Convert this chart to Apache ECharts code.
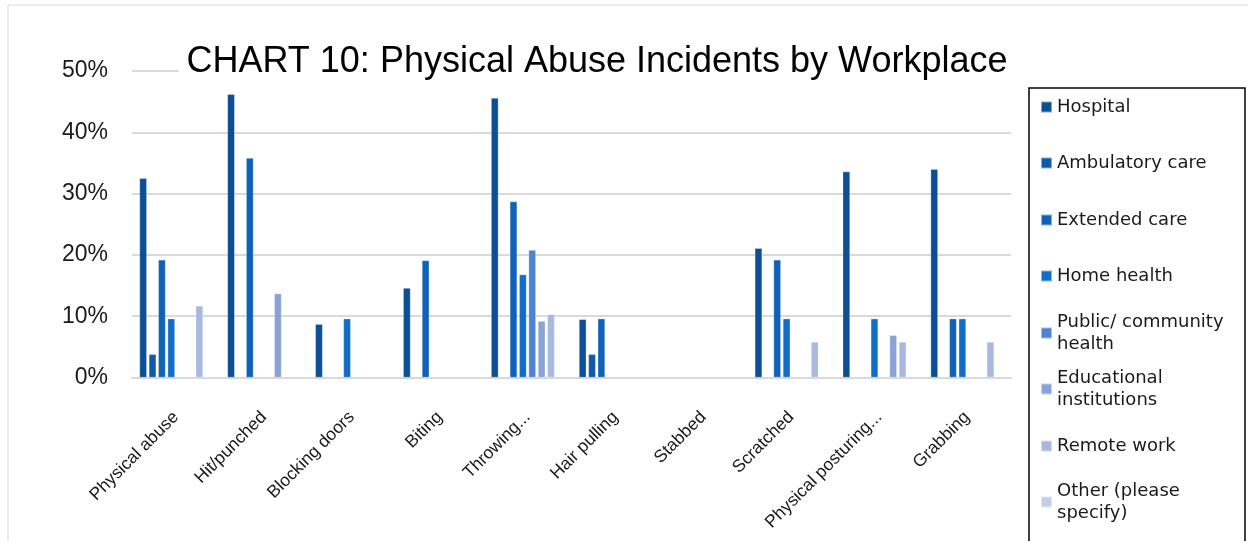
<!DOCTYPE html>
<html>
<head>
<meta charset="utf-8">
<script src="https://cdn.jsdelivr.net/npm/echarts@6/dist/echarts.min.js"></script>
<style>html,body{margin:0;padding:0;background:#fff;}#c{width:1248px;height:541px;}</style>
</head>
<body>
<div id="c"></div>
<script>
const categories = ['Physical abuse','Hit/punched','Blocking doors','Biting','Throwing...','Hair pulling','Stabbed','Scratched','Physical posturing...','Grabbing'];
const seriesNames = ['Hospital','Ambulatory care','Extended care','Home health','Public/ community health','Educational institutions','Remote work','Other (please specify)'];
const legendLabels = ['Hospital','Ambulatory care','Extended care','Home health','Public/ community\nhealth','Educational\ninstitutions','Remote work','Other (please\nspecify)'];
const hospital    = [32.5, 46.2, 8.7, 14.6, 45.6, 9.5, null, 21.1, 33.6, 34.0];
const ambulatory  = [3.8, null, null, null, null, 3.8, null, null, null, null];
const extended    = [19.2, 35.8, null, 19.1, 28.7, 9.6, null, 19.2, null, 9.6];
const homeHealth  = [9.6, null, 9.6, null, 16.8, null, null, 9.6, 9.6, 9.6];
const publicHealth= [null, null, null, null, 20.8, null, null, null, null, null];
const educational = [null, 13.7, null, null, 9.2, null, null, null, 6.9, null];
const remoteWork  = [11.7, null, null, null, 10.3, null, null, 5.8, 5.8, 5.8];
const other       = [null, null, null, null, null, null, null, null, null, null];
const yTicks = [0, 10, 20, 30, 40, 50];

const allData = [hospital, ambulatory, extended, homeHealth, publicHealth, educational, remoteWork, other];
const colors = ['#0b4f94','#0e5aa8','#0f62b8','#116dc8','#4f82cf','#8aa3d6','#a7b9e0','#c3cfea'];
const legendCenters = [107, 163, 220, 276, 333, 389, 446, 502];

const chart = echarts.init(document.getElementById('c'));
const FONT = 'Liberation Sans';
const LFONT = 'DejaVu Sans';

const legends = seriesNames.map((n, i) => {
  const two = legendLabels[i].indexOf('\n') >= 0;
  return {
    data: [n],
    left: 1040,
    top: legendCenters[i] - (two ? 33 : 11),
    orient: 'vertical',
    icon: 'rect',
    itemWidth: 11,
    itemHeight: 11,
    itemGap: 0,
    padding: 0,
    selectedMode: false,
    formatter: () => legendLabels[i],
    textStyle: {
      fontFamily: LFONT, fontSize: 18, color: '#1a1a1a', lineHeight: 22,
      padding: two ? [22, 0, 0, 0] : 0
    }
  };
});

chart.setOption({
  animation: false,
  color: colors,
  title: {
    text: 'CHART 10: Physical Abuse Incidents by Workplace',
    left: 589, top: 42, textAlign: 'center',
    backgroundColor: '#fff',
    padding: [2, 8],
    textStyle: { fontFamily: FONT, fontSize: 36, fontWeight: 'normal', color: '#000' }
  },
  legend: legends,
  grid: { left: 132, right: 237, top: 71, bottom: 163.5, containLabel: false },
  xAxis: {
    type: 'category',
    data: categories,
    axisTick: { show: false },
    axisLine: { lineStyle: { color: '#d9d9d9', width: 2 } },
    axisLabel: { rotate: 45, interval: 0, margin: 37, fontFamily: FONT, fontSize: 17.5, color: '#1a1a1a' }
  },
  yAxis: {
    type: 'value',
    min: yTicks[0], max: yTicks[yTicks.length - 1], interval: 10,
    axisLine: { show: false }, axisTick: { show: false },
    splitLine: { lineStyle: { color: '#d9d9d9', width: 2 } },
    axisLabel: { formatter: '{value}%', fontFamily: FONT, fontSize: 23, color: '#1a1a1a', margin: 24 }
  },
  series: seriesNames.map((n, i) => ({
    name: n, type: 'bar', data: allData[i],
    barGap: '27%', barCategoryGap: '17%',
    itemStyle: { color: colors[i], borderColor: 'rgba(255,255,255,0.5)', borderWidth: 0.6 }
  })),
  graphic: [
    { type: 'rect', z: -10, shape: { x: 8, y: 5, width: 1400, height: 700 }, style: { fill: null, stroke: '#d9d9d9', lineWidth: 1 } },
    { type: 'rect', z: 10, shape: { x: 1029, y: 88, width: 216, height: 480 }, style: { fill: null, stroke: '#000', lineWidth: 1.5 } }
  ]
});
</script>
</body>
</html>
